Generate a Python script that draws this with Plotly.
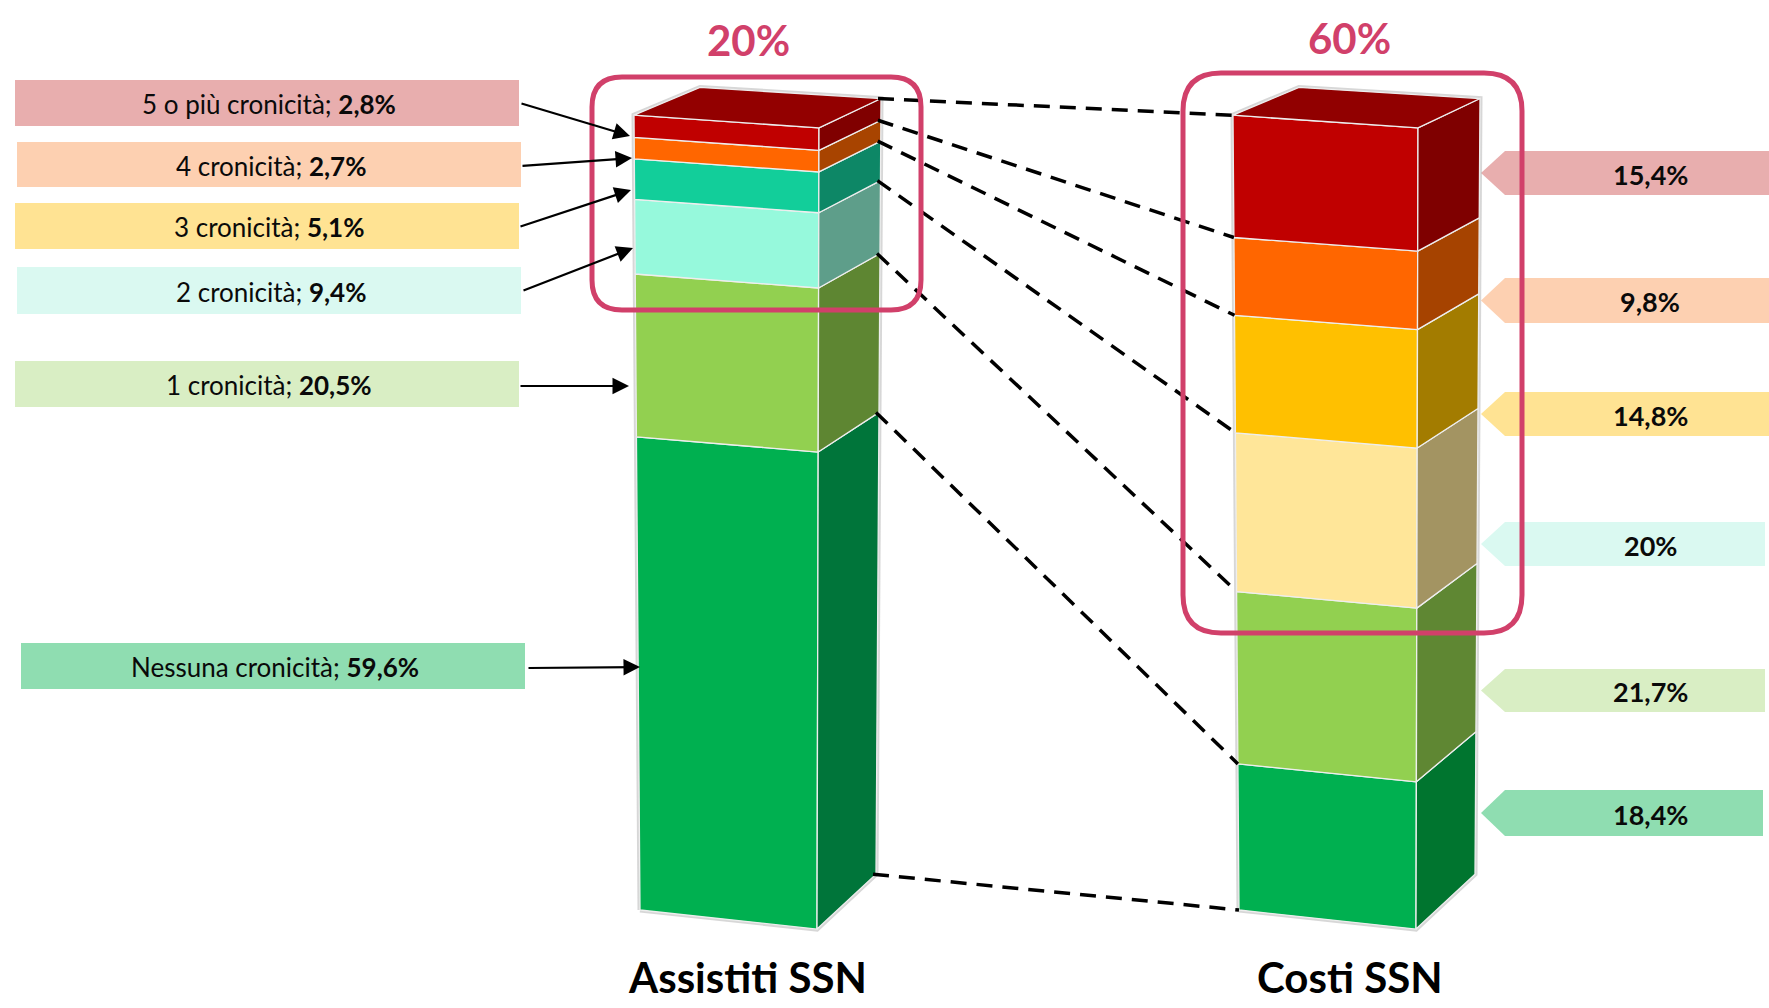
import plotly.graph_objects as go

W, H = 1769, 1008

# ---- data -----------------------------------------------------------------
categories = ["Nessuna cronicità", "1 cronicità", "2 cronicità",
              "3 cronicità", "4 cronicità", "5 o più cronicità"]
assistiti = [59.6, 20.5, 9.4, 5.1, 2.7, 2.8]      # % of assisted people
costi = [18.4, 21.7, 20.0, 14.8, 9.8, 15.4]        # % of SSN costs
bar_names = ["Assistiti SSN", "Costi SSN"]
n_highlight = 4                                    # top groups framed (2+ chronic conditions)

# ---- styling --------------------------------------------------------------
FONT = "Lato"
ACCENT = "#D1406A"
front_colors = {
    "Assistiti SSN": ["#00B050", "#92D050", "#96F9DC", "#12CE9A", "#FF6600", "#C00000"],
    "Costi SSN":     ["#00B050", "#92D050", "#FFE699", "#FFC000", "#FF6600", "#C00000"],
}
side_colors = {
    "Assistiti SSN": ["#00753A", "#5E8632", "#5E9E8A", "#0D8766", "#A84400", "#800000"],
    "Costi SSN":     ["#00752F", "#5F8733", "#A39462", "#A37C00", "#A64300", "#7F0000"],
}
top_colors = {"Assistiti SSN": "#930000", "Costi SSN": "#910000"}
label_fills = ["#8FDDB1", "#D9EEC4", "#DAF9F1", "#FFE393", "#FDD0B1", "#E8AEAE"]

# pseudo-3D frame of a bar: per vertical edge (dx bottom, dx top, dy bottom, dy top)
bar_x0 = {"Assistiti SSN": 637, "Costi SSN": 1236}
EDGES = {
    "FL": (3, -3, 0.0, 0.0),
    "FR": (180, 182, -2.4, -1.6),
    "BR": (239, 244, 4.5, 2.1),
}
BACK_LEFT_TOP = (63, 3.5)

# y axis in percent: 0 -> 910 px, 100 -> 116 px from the top
PX_PER_UNIT = (910 - 116) / 100
Y_RANGE = [(910 - H) / PX_PER_UNIT, 910 / PX_PER_UNIT]


def fmt_pct(v):
    s = f"{v:.1f}".replace(".", ",")
    if s.endswith(",0"):
        s = s[:-2]
    return s + "%"


def cumulative(values):
    out = [0.0]
    for v in values:
        out.append(out[-1] + v)
    return out


def edge_point(name, edge, cum, total):
    dxb, dxt, dyb, dyt = EDGES[edge]
    f = cum / total
    x = bar_x0[name] + dxb + f * (dxt - dxb)
    y = cum + dyb + f * (dyt - dyb)
    return x, y


def poly(points, fill, line="#EEEEEE", width=1.3):
    xs = [p[0] for p in points] + [points[0][0]]
    ys = [p[1] for p in points] + [points[0][1]]
    return go.Scatter(x=xs, y=ys, mode="lines", fill="toself", fillcolor=fill,
                      line=dict(color=line, width=width), hoverinfo="skip",
                      showlegend=False)


fig = go.Figure()
series = {"Assistiti SSN": assistiti, "Costi SSN": costi}
cums = {}

for name in bar_names:
    vals = series[name]
    total = sum(vals)
    cum = cumulative(vals)
    cums[name] = (cum, total)
    # soft outline of the whole column
    outline = [edge_point(name, "FL", 0, total), edge_point(name, "FL", total, total),
               (bar_x0[name] + BACK_LEFT_TOP[0], total + BACK_LEFT_TOP[1]),
               edge_point(name, "BR", total, total), edge_point(name, "BR", 0, total),
               edge_point(name, "FR", 0, total)]
    fig.add_trace(poly(outline, "rgba(0,0,0,0)", line="rgba(140,140,140,0.35)", width=5))
    for i in range(len(vals)):
        c0, c1 = cum[i], cum[i + 1]
        front = [edge_point(name, "FL", c0, total), edge_point(name, "FR", c0, total),
                 edge_point(name, "FR", c1, total), edge_point(name, "FL", c1, total)]
        side = [edge_point(name, "FR", c0, total), edge_point(name, "BR", c0, total),
                edge_point(name, "BR", c1, total), edge_point(name, "FR", c1, total)]
        fig.add_trace(poly(front, front_colors[name][i]))
        fig.add_trace(poly(side, side_colors[name][i]))
    top = [edge_point(name, "FL", total, total), edge_point(name, "FR", total, total),
           edge_point(name, "BR", total, total),
           (bar_x0[name] + BACK_LEFT_TOP[0], total + BACK_LEFT_TOP[1])]
    fig.add_trace(poly(top, top_colors[name]))

# dashed connectors between matching boundaries of the two columns
lc, lt = cums["Assistiti SSN"]
rc, rt = cums["Costi SSN"]
for k in range(len(lc)):
    p0 = edge_point("Assistiti SSN", "BR", lc[k], lt)
    p1 = edge_point("Costi SSN", "FL", rc[k], rt)
    fig.add_trace(go.Scatter(x=[p0[0] - 3, p1[0]], y=[p0[1], p1[1]], mode="lines",
                             line=dict(color="black", width=3.5, dash="16px,10px"),
                             hoverinfo="skip", showlegend=False))

# invisible trace so the pixel overlay axis exists
fig.add_trace(go.Scatter(x=[None], y=[None], yaxis="y2", showlegend=False, hoverinfo="skip"))

shapes = []
annotations = []

# left-hand category boxes with arrows: (x0, y0, x1, y1) and arrow (tail -> tip)
left_boxes = [(21, 643, 525, 689), (15, 361, 519, 407), (17, 267, 521, 314),
              (15, 203, 519, 249), (17, 142, 521, 187), (15, 80, 519, 126)]
left_arrows = [((527, 668), (640, 667)), ((519, 386), (629, 386)), ((522, 291), (633, 248)),
               ((519, 227), (631, 190)), ((521, 166), (632, 158)), ((520, 103), (630, 136))]
for i, cat in enumerate(categories):
    x0, y0, x1, y1 = left_boxes[i]
    shapes.append(dict(type="rect", xref="x", yref="y2", x0=x0, x1=x1, y0=y0, y1=y1,
                       fillcolor=label_fills[i], line=dict(width=0), layer="below"))
    annotations.append(dict(xref="x", yref="y2", x=(x0 + x1) / 2 + 2, y=(y0 + y1) / 2 + 1,
                            text=f"{cat}; <b>{fmt_pct(assistiti[i])}</b>", showarrow=False,
                            font=dict(family=FONT, size=26, color="#0A0A0A")))
    (tx, ty), (hx, hy) = left_arrows[i]
    annotations.append(dict(xref="x", yref="y2", axref="x", ayref="y2", x=hx, y=hy,
                            ax=tx, ay=ty, text="", showarrow=True, arrowhead=2,
                            arrowsize=1.5, arrowwidth=2.2, arrowcolor="black"))

# right-hand value tags (arrow-shaped)
right_tags = [(790, 836, 1763), (669, 712, 1765), (522, 566, 1765),
              (392, 436, 1769), (278, 323, 1769), (151, 195, 1769)]
TAG_TIP, TAG_BODY = 1481, 1505
for i, v in enumerate(costi):
    y0, y1, xr = right_tags[i]
    ym = (y0 + y1) / 2
    path = (f"M{TAG_TIP},{ym} L{TAG_BODY},{y0} L{xr},{y0} L{xr},{y1} "
            f"L{TAG_BODY},{y1} Z")
    shapes.append(dict(type="path", xref="x", yref="y2", path=path,
                       fillcolor=label_fills[i], line=dict(width=0), layer="below"))
    annotations.append(dict(xref="x", yref="y2", x=1650, y=ym + 1, text=f"<b>{fmt_pct(v)}</b>",
                            showarrow=False, font=dict(family=FONT, size=27, color="#0A0A0A")))


def rounded_rect(x0, y0, x1, y1, r):
    return (f"M{x0 + r},{y0} L{x1 - r},{y0} Q{x1},{y0} {x1},{y0 + r} "
            f"L{x1},{y1 - r} Q{x1},{y1} {x1 - r},{y1} L{x0 + r},{y1} "
            f"Q{x0},{y1} {x0},{y1 - r} L{x0},{y0 + r} Q{x0},{y0} {x0 + r},{y0} Z")


# highlight frames around the groups with two or more chronic conditions
frames = {"Assistiti SSN": (592, 77, 921, 310, 30), "Costi SSN": (1183, 73, 1522, 633, 38)}
title_pos = {"Assistiti SSN": (748, 40), "Costi SSN": (1349, 38)}
name_pos = {"Assistiti SSN": (747, 977), "Costi SSN": (1350, 977)}
for name in bar_names:
    x0, y0, x1, y1, r = frames[name]
    shapes.append(dict(type="path", xref="x", yref="y2", path=rounded_rect(x0, y0, x1, y1, r),
                       line=dict(color=ACCENT, width=5), fillcolor="rgba(0,0,0,0)"))
    share = sum(series[name][-n_highlight:])
    tx, ty = title_pos[name]
    annotations.append(dict(xref="x", yref="y2", x=tx, y=ty, text=f"<b>{fmt_pct(share)}</b>",
                            showarrow=False, font=dict(family=FONT, size=42, color=ACCENT)))
    nx, ny = name_pos[name]
    annotations.append(dict(xref="x", yref="y2", x=nx, y=ny, text=f"<b>{name}</b>",
                            showarrow=False, font=dict(family=FONT, size=42, color="black")))

fig.update_layout(
    width=W, height=H,
    margin=dict(l=0, r=0, t=0, b=0),
    paper_bgcolor="white", plot_bgcolor="white",
    showlegend=False,
    xaxis=dict(range=[0, W], visible=False, fixedrange=True),
    yaxis=dict(range=Y_RANGE, visible=False, fixedrange=True),
    yaxis2=dict(range=[H, 0], visible=False, overlaying="y", fixedrange=True),
    shapes=shapes,
    annotations=annotations,
)

fig.write_html("out.html")
